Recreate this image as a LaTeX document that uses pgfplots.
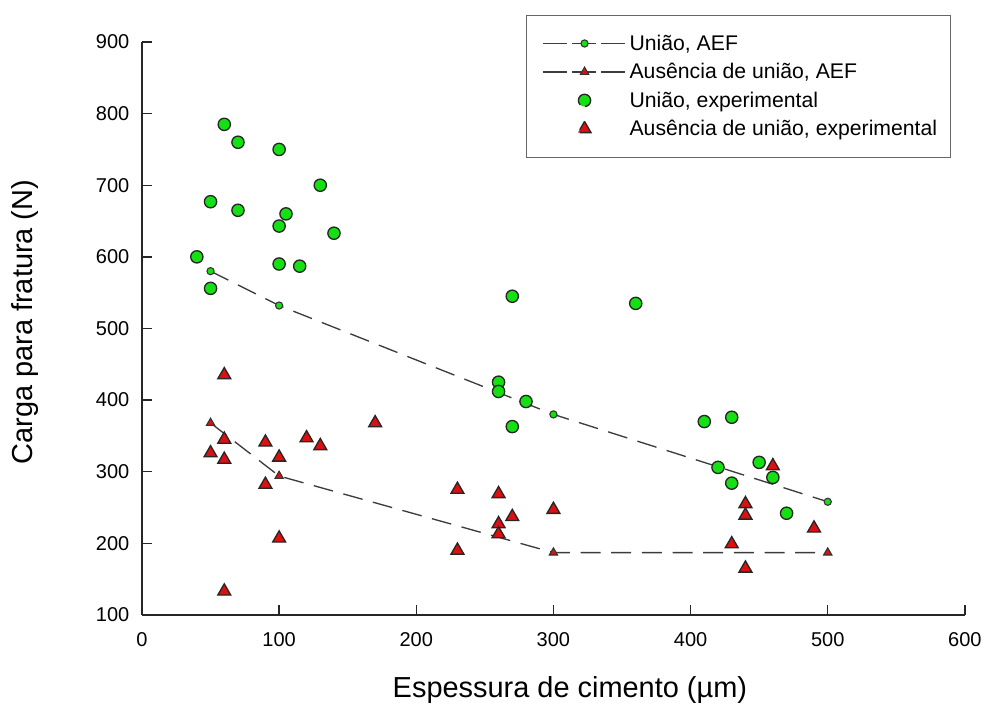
\documentclass[border=0pt]{standalone}
\usepackage{pgfplots}
\pgfplotsset{compat=1.18}
\usepackage{fontspec}
\setmainfont{Liberation Sans}
\definecolor{mygreen}{RGB}{20,224,20}
\definecolor{myred}{RGB}{220,16,16}
\definecolor{dline}{RGB}{60,60,60}
\begin{document}
\begin{tikzpicture}
\begin{axis}[
  scale only axis,
  width=617.25pt, height=429.75pt,
  xmin=0, xmax=600, ymin=100, ymax=900,
  xtick={0,100,...,600}, ytick={100,200,...,900},
  axis x line*=bottom, axis y line*=left,
  axis line style={line width=1.1pt, black!85},
  tick align=inside,
  major tick length=7.5pt,
  tick style={line width=1pt, black!85},
  /pgf/number format/assume math mode=true,
  ticklabel style={font=\fontsize{15}{18}\selectfont},
  xticklabel style={yshift=-9.5pt},
  yticklabel style={xshift=-6pt},
  every axis x label/.style={at={(axis description cs:0.52,-0.1309)},anchor=center,font=\fontsize{21.7}{26}\selectfont},
  every axis y label/.style={at={(axis description cs:-0.1422,0.511)},rotate=90,anchor=center,font=\fontsize{21.7}{26}\selectfont},
  xlabel={Espessura de cimento (µm)},
  ylabel={Carga para fratura (N)},
  legend style={at={(0.983,1.047)},anchor=north east, draw=black!60, line width=0.6pt,
    font=\fontsize{15.9}{19}\selectfont, row sep=4.3pt, inner ysep=12.5pt, inner xsep=8pt,
    cells={anchor=west}},
  legend image code/.code={\path (-4pt,0pt); \draw[mark repeat=2,mark phase=2,#1,dash pattern=on 18pt off 4pt] plot coordinates {(0cm,0cm) (1.1cm,0cm) (2.2cm,0cm)};},
  clip=false,
]
\addplot[dline, line width=1pt, dash pattern=on 15pt off 8pt, mark=*, mark size=2.7pt,
  mark options={solid, fill=mygreen, draw=black!80, line width=0.8pt}]
  coordinates {(50,580) (100,532) (300,380) (500,258)};
\addlegendentry{União, AEF}
\addplot[dline, line width=1pt, dash pattern=on 15pt off 8pt, mark=triangle*, mark size=3.6pt,
  mark options={solid, fill=myred, draw=black!80, line width=0.8pt}]
  coordinates {(50,368) (100,294) (300,187) (500,187)};
\addlegendentry{Ausência de união, AEF}
\addplot[only marks, mark=*, mark size=4.6pt,
  mark options={fill=mygreen, draw=black!85, line width=1pt}]
  coordinates {
  (60,785) (70,760) (100,750) (130,700) (50,677) (70,665) (105,660) (100,643)
  (140,633) (40,600) (100,590) (115,587) (50,556)
  (270,545) (360,535) (260,425) (260,412) (280,398) (270,363)
  (410,370) (430,376) (420,306) (450,313) (460,292) (430,284) (470,242)};
\addlegendentry{União, experimental}
\addplot[only marks, mark=triangle*, mark size=5.6pt,
  mark options={fill=myred, draw=black!85, line width=1pt}]
  coordinates {
  (60,435) (170,368) (60,345) (90,341) (120,347) (130,336) (50,326) (100,320)
  (60,317) (90,282) (100,207) (60,133)
  (230,275) (260,269) (300,247) (270,237) (260,227) (260,213) (230,190)
  (460,308) (440,255) (440,239) (490,221) (430,199) (440,165)};
\addlegendentry{Ausência de união, experimental}
\end{axis}
\path[use as bounding box] ([shift={(-106.5pt,-72pt)}]current axis.south west) rectangle ([shift={(15.75pt,31.5pt)}]current axis.north east);
\end{tikzpicture}
\end{document}
